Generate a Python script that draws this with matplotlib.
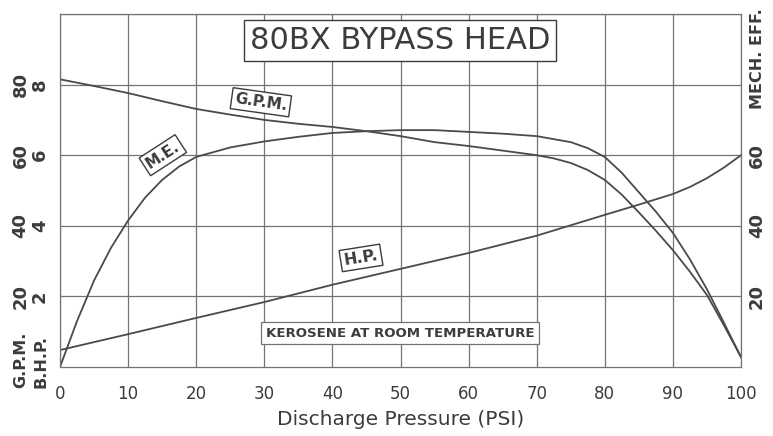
import matplotlib

matplotlib.use("Agg")

import matplotlib.pyplot as plt
import matplotlib.transforms as mtransforms

# ============================================================
# DATA
# ============================================================

gpm_psi = [0, 5, 10, 15, 20, 25, 30, 35, 40, 45, 50, 55, 60, 65, 70,
           72.5, 75, 77.5, 80, 82.5, 85, 87.5, 90, 92.5, 95, 97.5, 100]
gpm = [81.5, 79.6, 77.6, 75.3, 73.1, 71.5, 70.0, 68.9, 68.0, 66.8, 65.4,
       63.7, 62.6, 61.3, 60.0, 59.1, 57.8, 55.8, 53.0, 48.8, 43.8, 38.6,
       33.1, 27.0, 20.4, 11.8, 2.8]

eff_psi = [0, 2.5, 5, 7.5, 10, 12.5, 15, 17.5, 20, 25, 30, 35, 40, 45, 50,
           55, 60, 65, 70, 75, 77.5, 80, 82.5, 85, 87.5, 90, 92.5, 95,
           97.5, 100]
mech_eff = [0.0, 13.0, 24.5, 33.8, 41.5, 48.0, 53.0, 56.8, 59.5, 62.2, 63.9,
            65.2, 66.3, 66.8, 67.1, 67.1, 66.6, 66.1, 65.4, 63.7, 62.0, 59.5,
            55.0, 49.5, 44.0, 38.0, 30.5, 22.0, 12.5, 2.8]

bhp_psi = [0, 10, 20, 30, 40, 50, 60, 70, 80, 85, 90, 92.5, 95, 97.5, 100]
bhp = [0.48, 0.93, 1.39, 1.84, 2.33, 2.78, 3.23, 3.72, 4.31, 4.60, 4.90,
       5.10, 5.35, 5.65, 6.00]

x_ticks = [0, 10, 20, 30, 40, 50, 60, 70, 80, 90, 100]
bhp_ticks = [2, 4, 6, 8]
gpm_ticks = [20, 40, 60, 80]
eff_ticks = [20, 40, 60]

INK = "#3c3c3c"
GRID = "#747474"
CURVE = "#4a4a4a"


def main():
    figure = plt.figure(figsize=(7.73, 4.36), dpi=100)
    axis = figure.add_axes([60 / 773, 1 - 367 / 436, 681 / 773, 353 / 436])

    # ============================================================
    # GRID AND FRAME
    # ============================================================

    axis.set_xlim(0, 100)
    axis.set_ylim(0, 10)
    axis.set_xticks(x_ticks)
    axis.set_yticks(bhp_ticks + [10])
    axis.set_yticklabels([str(v) for v in bhp_ticks] + [""])
    axis.grid(True, color=GRID, linewidth=0.9)
    for spine in axis.spines.values():
        spine.set_color(GRID)
        spine.set_linewidth(0.9)

    axis.tick_params(axis="x", length=0, pad=13, labelsize=12, labelcolor=INK)
    axis.tick_params(axis="y", length=0, pad=8, labelsize=13,
                     labelcolor=INK, labelrotation=90)
    for label in axis.get_yticklabels():
        label.set_fontweight("bold")
        label.set_verticalalignment("center")

    # outer left column: G.P.M.
    gpm_axis = axis.secondary_yaxis(
        "left", functions=(lambda v: v * 10, lambda v: v / 10))
    gpm_axis.set_yticks(gpm_ticks)
    gpm_axis.tick_params(length=0, pad=22, labelsize=13, labelcolor=INK,
                         labelrotation=90)
    gpm_axis.spines["left"].set_visible(False)
    for label in gpm_axis.get_yticklabels():
        label.set_fontweight("bold")
        label.set_verticalalignment("center")

    # right: mechanical efficiency
    eff_axis = axis.secondary_yaxis(
        "right", functions=(lambda v: v * 10, lambda v: v / 10))
    eff_axis.set_yticks(eff_ticks)
    eff_axis.tick_params(length=0, pad=5, labelsize=13, labelcolor=INK,
                         labelrotation=90)
    eff_axis.spines["right"].set_visible(False)
    for label in eff_axis.get_yticklabels():
        label.set_fontweight("bold")
        label.set_verticalalignment("center")

    axis.set_xlabel("Discharge Pressure (PSI)", fontsize=14.5, color=INK,
                    labelpad=5)

    # ============================================================
    # CURVES
    # ============================================================

    axis.plot(gpm_psi, [v / 10 for v in gpm], color=CURVE, linewidth=1.3)
    axis.plot(eff_psi, [v / 10 for v in mech_eff], color=CURVE, linewidth=1.3)
    axis.plot(bhp_psi, bhp, color=CURVE, linewidth=1.3)

    # ============================================================
    # LABELS
    # ============================================================

    box = dict(boxstyle="square,pad=0.2", facecolor="white",
               edgecolor=INK, linewidth=1.0)

    axis.text(49.9, 9.25, "80BX BYPASS HEAD", fontsize=22, color=INK,
              ha="center", va="center", bbox=box, zorder=5)
    axis.text(29.5, 7.5, "G.P.M.", fontsize=11, fontweight="bold", color=INK,
              rotation=-8, ha="center", va="center", bbox=box, zorder=5)
    axis.text(15.1, 6.0, "M.E.", fontsize=11, fontweight="bold", color=INK,
              rotation=33, ha="center", va="center", bbox=box, zorder=5)
    axis.text(44.2, 3.09, "H.P.", fontsize=11.5, fontweight="bold", color=INK,
              rotation=9, ha="center", va="center", bbox=box, zorder=5)
    axis.text(49.9, 0.96, "KEROSENE AT ROOM TEMPERATURE", fontsize=9.6,
              fontweight="bold", color=INK, ha="center", va="center",
              bbox=dict(boxstyle="square,pad=0.35", facecolor="white",
                        edgecolor=GRID, linewidth=0.9), zorder=5)

    # axis names sit at the ends of the side scales
    side = mtransforms.blended_transform_factory(figure.transFigure,
                                                 axis.transData)
    axis.text(21 / 773, -0.6, "G.P.M.", transform=side, fontsize=11.5,
              fontweight="bold", color=INK, rotation=90, ha="center",
              va="bottom", clip_on=False)
    axis.text(41 / 773, -0.6, "B.H.P.", transform=side, fontsize=11.5,
              fontweight="bold", color=INK, rotation=90, ha="center",
              va="bottom", clip_on=False)
    axis.text(758 / 773, 10.15, "MECH. EFF.", transform=side,
              fontsize=11.5, fontweight="bold", color=INK, rotation=90,
              ha="center", va="top", clip_on=False)

    figure.savefig("out.png", dpi=100)


if __name__ == "__main__":
    main()
